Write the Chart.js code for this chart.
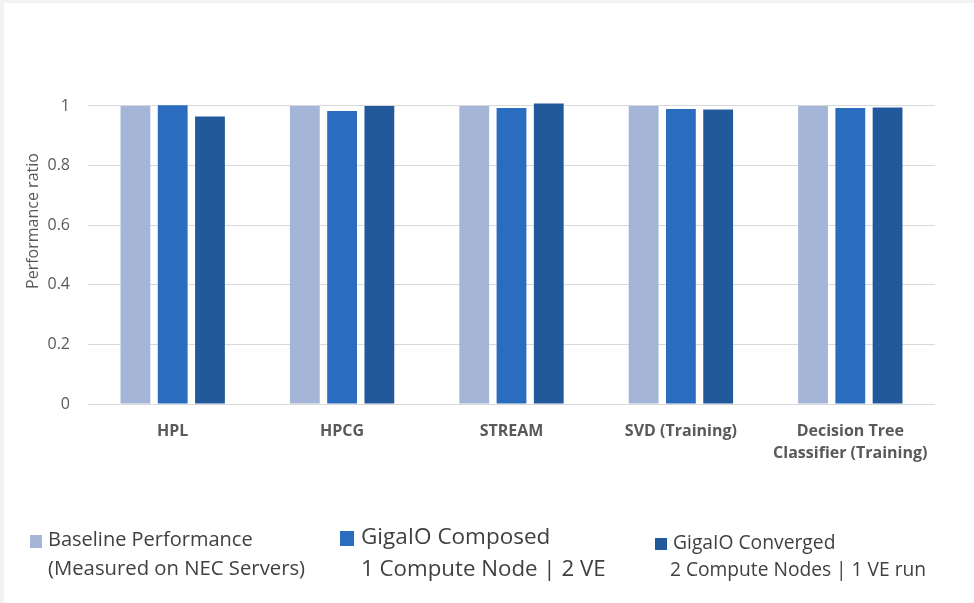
<!DOCTYPE html>
<html>
<head>
<meta charset="utf-8">
<script src="https://cdn.jsdelivr.net/npm/chart.js@4/dist/chart.umd.min.js"></script>
<style>
  html, body { margin:0; padding:0; background:#f2f2f2; }
  #wrap { position:relative; width:974px; height:603px; overflow:hidden; }
  #panel { position:absolute; left:4px; top:3px; width:970px; height:600px; background:#fff; }
  #c { position:absolute; left:0; top:0; }
  .lg { position:absolute; font-family:"Open Sans", sans-serif; color:#404040; white-space:nowrap; line-height:1; }
  .sq { position:absolute; }
</style>
</head>
<body>
<div id="wrap">
  <div id="panel"></div>
  <canvas id="c" width="974" height="603"></canvas>
  <div id="legend"></div>
</div>
<script>
const categories = ['HPL', 'HPCG', 'STREAM', 'SVD (Training)', ['Decision Tree', 'Classifier (Training)']];
const seriesNames = ['Baseline Performance', 'GigaIO Composed', 'GigaIO Converged'];
const seriesSubtitles = ['(Measured on NEC Servers)', '1 Compute Node | 2 VE', '2 Compute Nodes | 1 VE run'];
const baseline = [1.0, 1.0, 1.0, 1.0, 1.0];
const composed = [1.002, 0.983, 0.993, 0.990, 0.993];
const converged = [0.965, 1.0, 1.008, 0.988, 0.995];
const yTickValues = [0, 0.2, 0.4, 0.6, 0.8, 1];
const colors = ['#a4b5d7', '#2a6dbf', '#22599b'];

const ctx = document.getElementById('c').getContext('2d');
new Chart(ctx, {
  type: 'bar',
  data: {
    labels: categories,
    datasets: [
      { label: seriesNames[0], data: baseline, backgroundColor: colors[0] },
      { label: seriesNames[1], data: composed, backgroundColor: colors[1] },
      { label: seriesNames[2], data: converged, backgroundColor: colors[2] }
    ]
  },
  options: {
    responsive: false,
    animation: false,
    layout: { padding: { left: 24, top: 38, right: 39, bottom: 139 } },
    datasets: { bar: { categoryPercentage: 0.66, barPercentage: 0.8, borderWidth: 0 } },
    plugins: { legend: { display: false }, tooltip: { enabled: false } },
    scales: {
      x: {
        grid: { display: false, drawTicks: false },
        border: { display: false },
        ticks: {
          padding: 16,
          color: '#595959',
          font: { family: '"Open Sans", sans-serif', size: 16, weight: 'bold', lineHeight: 1.4 },
          maxRotation: 0, autoSkip: false
        },
        afterFit: (s) => { s.height = 60; }
      },
      y: {
        min: 0, max: 1.228,
        grid: { color: '#d9d9d9', lineWidth: 1, drawTicks: false },
        border: { display: false },
        afterBuildTicks: (s) => { s.ticks = yTickValues.map(v => ({ value: v })); },
        ticks: {
          padding: 18,
          color: '#595959',
          font: { family: '"Open Sans", sans-serif', size: 16 },
          callback: (v) => String(Math.round(v * 10) / 10)
        },
        title: {
          display: true, text: 'Performance ratio', color: '#595959',
          font: { family: '"Open Sans", sans-serif', size: 16 }, padding: 0
        },
        afterFit: (s) => { s.width = 64; }
      }
    }
  }
});

// Legend (two-line entries, built from the series arrays)
const legendSpec = [
  { sq: [30, 535, 12, 13], t1: [48, 541, 20], t2: [48, 570, 20.3] },
  { sq: [340, 531, 14, 15], t1: [361, 539, 22.5], t2: [361, 571, 22.3] },
  { sq: [655, 538, 12, 12], t1: [673, 544, 19.3], t2: [670, 571, 19.2] }
];
const lg = document.getElementById('legend');
legendSpec.forEach((p, i) => {
  const sq = document.createElement('div');
  sq.className = 'sq';
  Object.assign(sq.style, { left: p.sq[0] + 'px', top: p.sq[1] + 'px', width: p.sq[2] + 'px', height: p.sq[3] + 'px', background: colors[i] });
  lg.appendChild(sq);
  [[seriesNames[i], p.t1], [seriesSubtitles[i], p.t2]].forEach(([txt, q]) => {
    const d = document.createElement('div');
    d.className = 'lg';
    d.textContent = txt;
    Object.assign(d.style, { left: q[0] + 'px', top: (q[1] - q[2] * 0.62) + 'px', fontSize: q[2] + 'px' });
    lg.appendChild(d);
  });
});
</script>
</body>
</html>
